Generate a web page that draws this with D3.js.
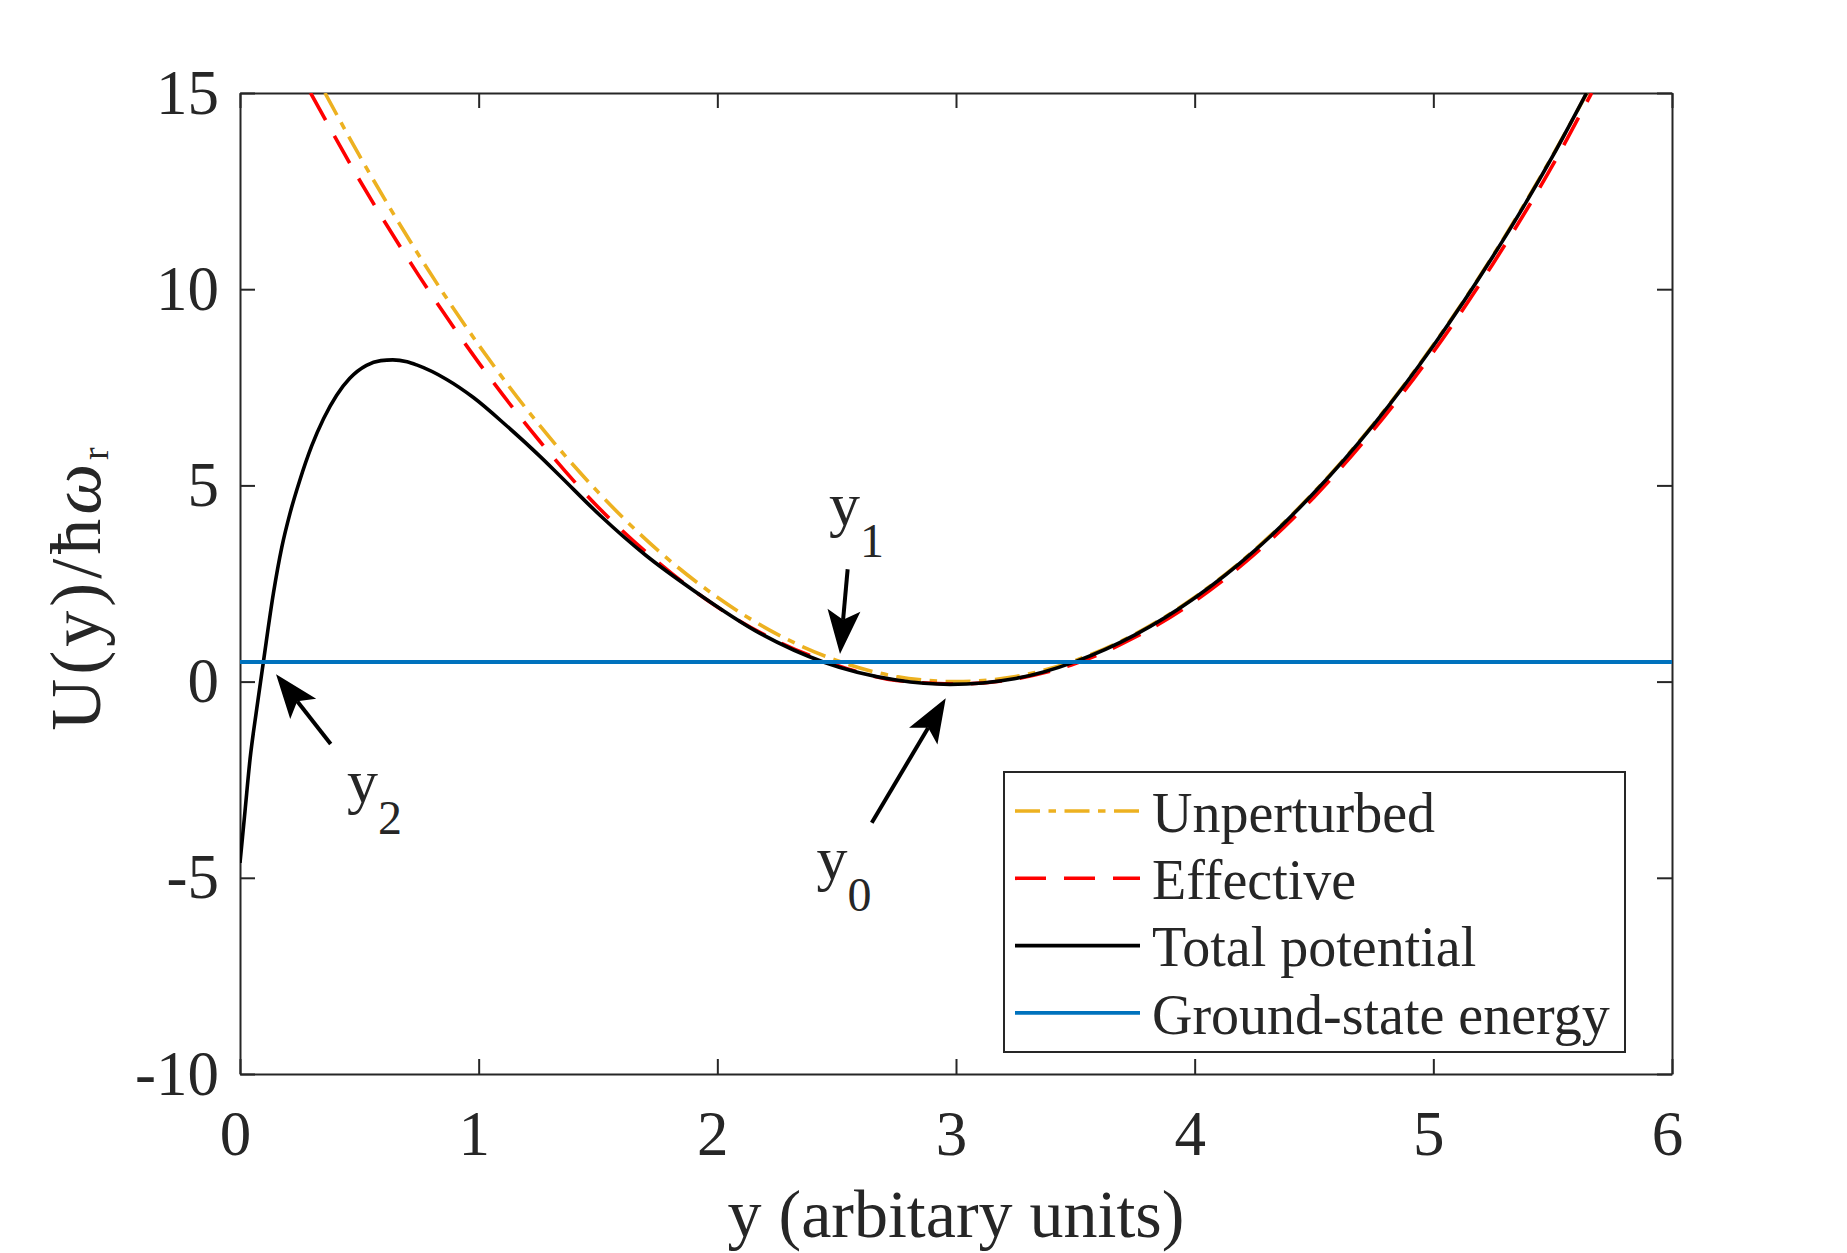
<!DOCTYPE html>
<html lang="en">
<head>
<meta charset="UTF-8" />
<title>U(y) potential</title>
<script src="https://d3js.org/d3.v7.min.js"></script>
<style>
  body { margin: 0; background: #fff; }
  svg { display: block; background: #fff; }
  text { font-family: "Liberation Serif", "Times New Roman", serif; fill: #262626; }
</style>
</head>
<body>
<div id="viz"><svg></svg></div>
<script>
// ticks
const xTicks = [0, 1, 2, 3, 4, 5, 6];
const yTicks = [-10, -5, 0, 5, 10, 15];

// unperturbed potential
const unpX = [0.356, 0.5, 0.75, 1.0, 1.25, 1.5, 1.75, 2.0, 2.25, 2.5, 2.75, 3.0,
              3.25, 3.5, 3.75, 4.0, 4.25, 4.5, 4.75, 5.0, 5.25, 5.5, 5.644];
const unpY = [15.0, 13.41, 10.86, 8.58, 6.57, 4.83, 3.35, 2.15, 1.21, 0.54, 0.13, 0.0,
              0.13, 0.54, 1.21, 2.15, 3.35, 4.83, 6.57, 8.58, 10.86, 13.41, 15.0];

// effective potential
const effX = [0.296, 0.5, 0.75, 1.0, 1.25, 1.5, 1.75, 2.0, 2.25, 2.5, 2.75, 3.0,
              3.25, 3.5, 3.75, 4.0, 4.25, 4.5, 4.75, 5.0, 5.25, 5.5, 5.663];
const effY = [15.0, 12.79, 10.34, 8.13, 6.17, 4.45, 3.05, 1.90, 1.03, 0.42, 0.03, -0.06,
              0.07, 0.46, 1.13, 2.05, 3.24, 4.70, 6.42, 8.40, 10.65, 13.16, 15.0];

// total potential
const totX = [0, 0.021, 0.042, 0.07, 0.098, 0.14, 0.175, 0.21, 0.25, 0.30, 0.35, 0.405,
              0.46, 0.53, 0.59, 0.64, 0.70, 0.74, 0.866, 0.978, 1.117, 1.257, 1.341,
              1.508, 1.7, 1.899, 2.179, 2.444, 2.75, 2.975, 3.25, 3.5, 3.75, 4.0,
              4.25, 4.5, 4.75, 5.0, 5.25, 5.5, 5.642];
const totY = [-4.62, -3.3, -1.98, -0.7, 0.5, 2.25, 3.42, 4.3, 5.12, 6.0, 6.7, 7.3,
              7.73, 8.06, 8.18, 8.2, 8.15, 8.07, 7.70, 7.24, 6.52, 5.74, 5.24,
              4.24, 3.22, 2.33, 1.23, 0.5, 0.04, -0.07, 0.08, 0.51, 1.19, 2.13,
              3.33, 4.81, 6.55, 8.56, 10.84, 13.39, 15.0];

// ground-state energy
const gsX = [0, 6];
const gsY = [0.5, 0.5];

const seriesNames = ["Unperturbed", "Effective", "Total potential", "Ground-state energy"];

const W = 1847, H = 1253;
const svg = d3.select("svg").attr("width", W).attr("height", H);

const x = d3.scaleLinear().domain([0, 6]).range([240, 1672]);
const y = d3.scaleLinear().domain([-10, 15]).range([1074, 93]);

const axisColor = "#262626";
const fmt = d => String(d);   // plain hyphen for negatives, like the original

// clip region
svg.append("defs").append("clipPath").attr("id", "plotClip")
  .append("rect")
  .attr("x", x(0)).attr("y", y(15))
  .attr("width", x(6) - x(0)).attr("height", y(-10) - y(15));

// axes (ticks inward, box on)
function styleAxis(g) {
  g.select(".domain").attr("stroke", axisColor).attr("stroke-width", 2);
  g.selectAll(".tick line").attr("stroke", axisColor).attr("stroke-width", 2);
  g.selectAll(".tick text")
    .attr("fill", axisColor)
    .style("font-family", '"Liberation Serif", "Times New Roman", serif')
    .style("font-size", "63px");
  g.attr("font-family", null).attr("font-size", null);
}

svg.append("g")
  .attr("transform", "translate(0," + y(-10) + ")")
  .call(d3.axisBottom(x).tickValues(xTicks).tickFormat(fmt)
    .tickSizeInner(-15).tickSizeOuter(0).tickPadding(36))
  .call(styleAxis)
  .selectAll(".tick text").attr("dx", -5);

svg.append("g")
  .attr("transform", "translate(" + x(0) + ",0)")
  .call(d3.axisLeft(y).tickValues(yTicks).tickFormat(fmt)
    .tickSizeInner(-15).tickSizeOuter(0).tickPadding(21))
  .call(styleAxis);

svg.append("g")
  .attr("transform", "translate(0," + y(15) + ")")
  .call(d3.axisTop(x).tickValues(xTicks).tickFormat("")
    .tickSizeInner(-15).tickSizeOuter(0))
  .call(styleAxis);

svg.append("g")
  .attr("transform", "translate(" + x(6) + ",0)")
  .call(d3.axisRight(y).tickValues(yTicks).tickFormat("")
    .tickSizeInner(-15).tickSizeOuter(0))
  .call(styleAxis);

// curves
const line = d3.line()
  .x(d => x(d[0]))
  .y(d => y(d[1]))
  .curve(d3.curveMonotoneX);

const styles = [
  { color: "#EDB120", dash: "25,8.5,7.5,8.5", width: 3.6 },
  { color: "#FF0000", dash: "31,18", width: 3.6 },
  { color: "#000000", dash: null, width: 3.6 },
  { color: "#0072BD", dash: null, width: 3.8 }
];

const series = [
  d3.zip(unpX, unpY),
  d3.zip(effX, effY),
  d3.zip(totX, totY),
  d3.zip(gsX, gsY)
];

const plot = svg.append("g").attr("clip-path", "url(#plotClip)");
series.forEach(function (pts, i) {
  plot.append("path")
    .datum(pts)
    .attr("d", line)
    .attr("fill", "none")
    .attr("stroke", styles[i].color)
    .attr("stroke-width", styles[i].width)
    .attr("stroke-dasharray", styles[i].dash)
    .attr("stroke-linejoin", "round");
});

// annotation arrows (tail -> tip, data coords)
function arrow(x0, y0, x1, y1) {
  const tx = x(x0), ty = y(y0), hx = x(x1), hy = y(y1);
  const len = Math.hypot(hx - tx, hy - ty);
  const ux = (hx - tx) / len, uy = (hy - ty) / len;
  const nx = -uy, ny = ux;
  const L = 44, Wd = 33, notch = 0.78 * L;
  const bx = hx - L * ux, by = hy - L * uy;
  const mx = hx - notch * ux, my = hy - notch * uy;
  svg.append("line")
    .attr("x1", tx).attr("y1", ty).attr("x2", mx).attr("y2", my)
    .attr("stroke", "#000").attr("stroke-width", 4);
  svg.append("polygon")
    .attr("points", [
      [hx, hy],
      [bx + nx * Wd / 2, by + ny * Wd / 2],
      [mx, my],
      [bx - nx * Wd / 2, by - ny * Wd / 2]
    ].map(p => p.join(",")).join(" "))
    .attr("fill", "#000");
}

function subLabel(xv, yv, main, sub) {
  const t = svg.append("text")
    .attr("x", x(xv)).attr("y", y(yv))
    .style("font-size", "62px").attr("fill", "#000");
  t.append("tspan").text(main);
  t.append("tspan").attr("dy", 32).style("font-size", "48px").text(sub);
}

arrow(2.546, 2.862, 2.514, 0.703);
arrow(2.647, -3.596, 2.957, -0.426);
arrow(0.380, -1.588, 0.151, 0.186);

subLabel(2.468, 4.0, "y", "1");
subLabel(2.416, -5.04, "y", "0");
subLabel(0.448, -3.08, "y", "2");

// axis labels
svg.append("text")
  .attr("x", (x(0) + x(6)) / 2)
  .attr("y", 1237)
  .attr("text-anchor", "middle")
  .style("font-size", "68px")
  .text("y (arbitary units)");

const yl = svg.append("text")
  .attr("transform", "translate(100,587) rotate(-90)")
  .attr("text-anchor", "middle")
  .style("font-size", "72px")
  .style("letter-spacing", "4px");
yl.append("tspan").text("U(y)/ħ");
yl.append("tspan").style("font-style", "italic").text("ω");
yl.append("tspan").attr("dy", 8).style("font-size", "38px").text("r");

// legend
const lg = svg.append("g");
lg.append("rect")
  .attr("x", 1004).attr("y", 772)
  .attr("width", 621).attr("height", 280)
  .attr("fill", "#fff")
  .attr("stroke", axisColor).attr("stroke-width", 2);

seriesNames.forEach(function (name, i) {
  const cy = 811 + i * 67.3;
  lg.append("line")
    .attr("x1", 1015).attr("x2", 1140)
    .attr("y1", cy).attr("y2", cy)
    .attr("stroke", styles[i].color)
    .attr("stroke-width", styles[i].width)
    .attr("stroke-dasharray", styles[i].dash);
  lg.append("text")
    .attr("x", 1152).attr("y", cy + 20.7)
    .style("font-size", "56px")
    .attr("fill", "#000")
    .text(name);
});
</script>
</body>
</html>
